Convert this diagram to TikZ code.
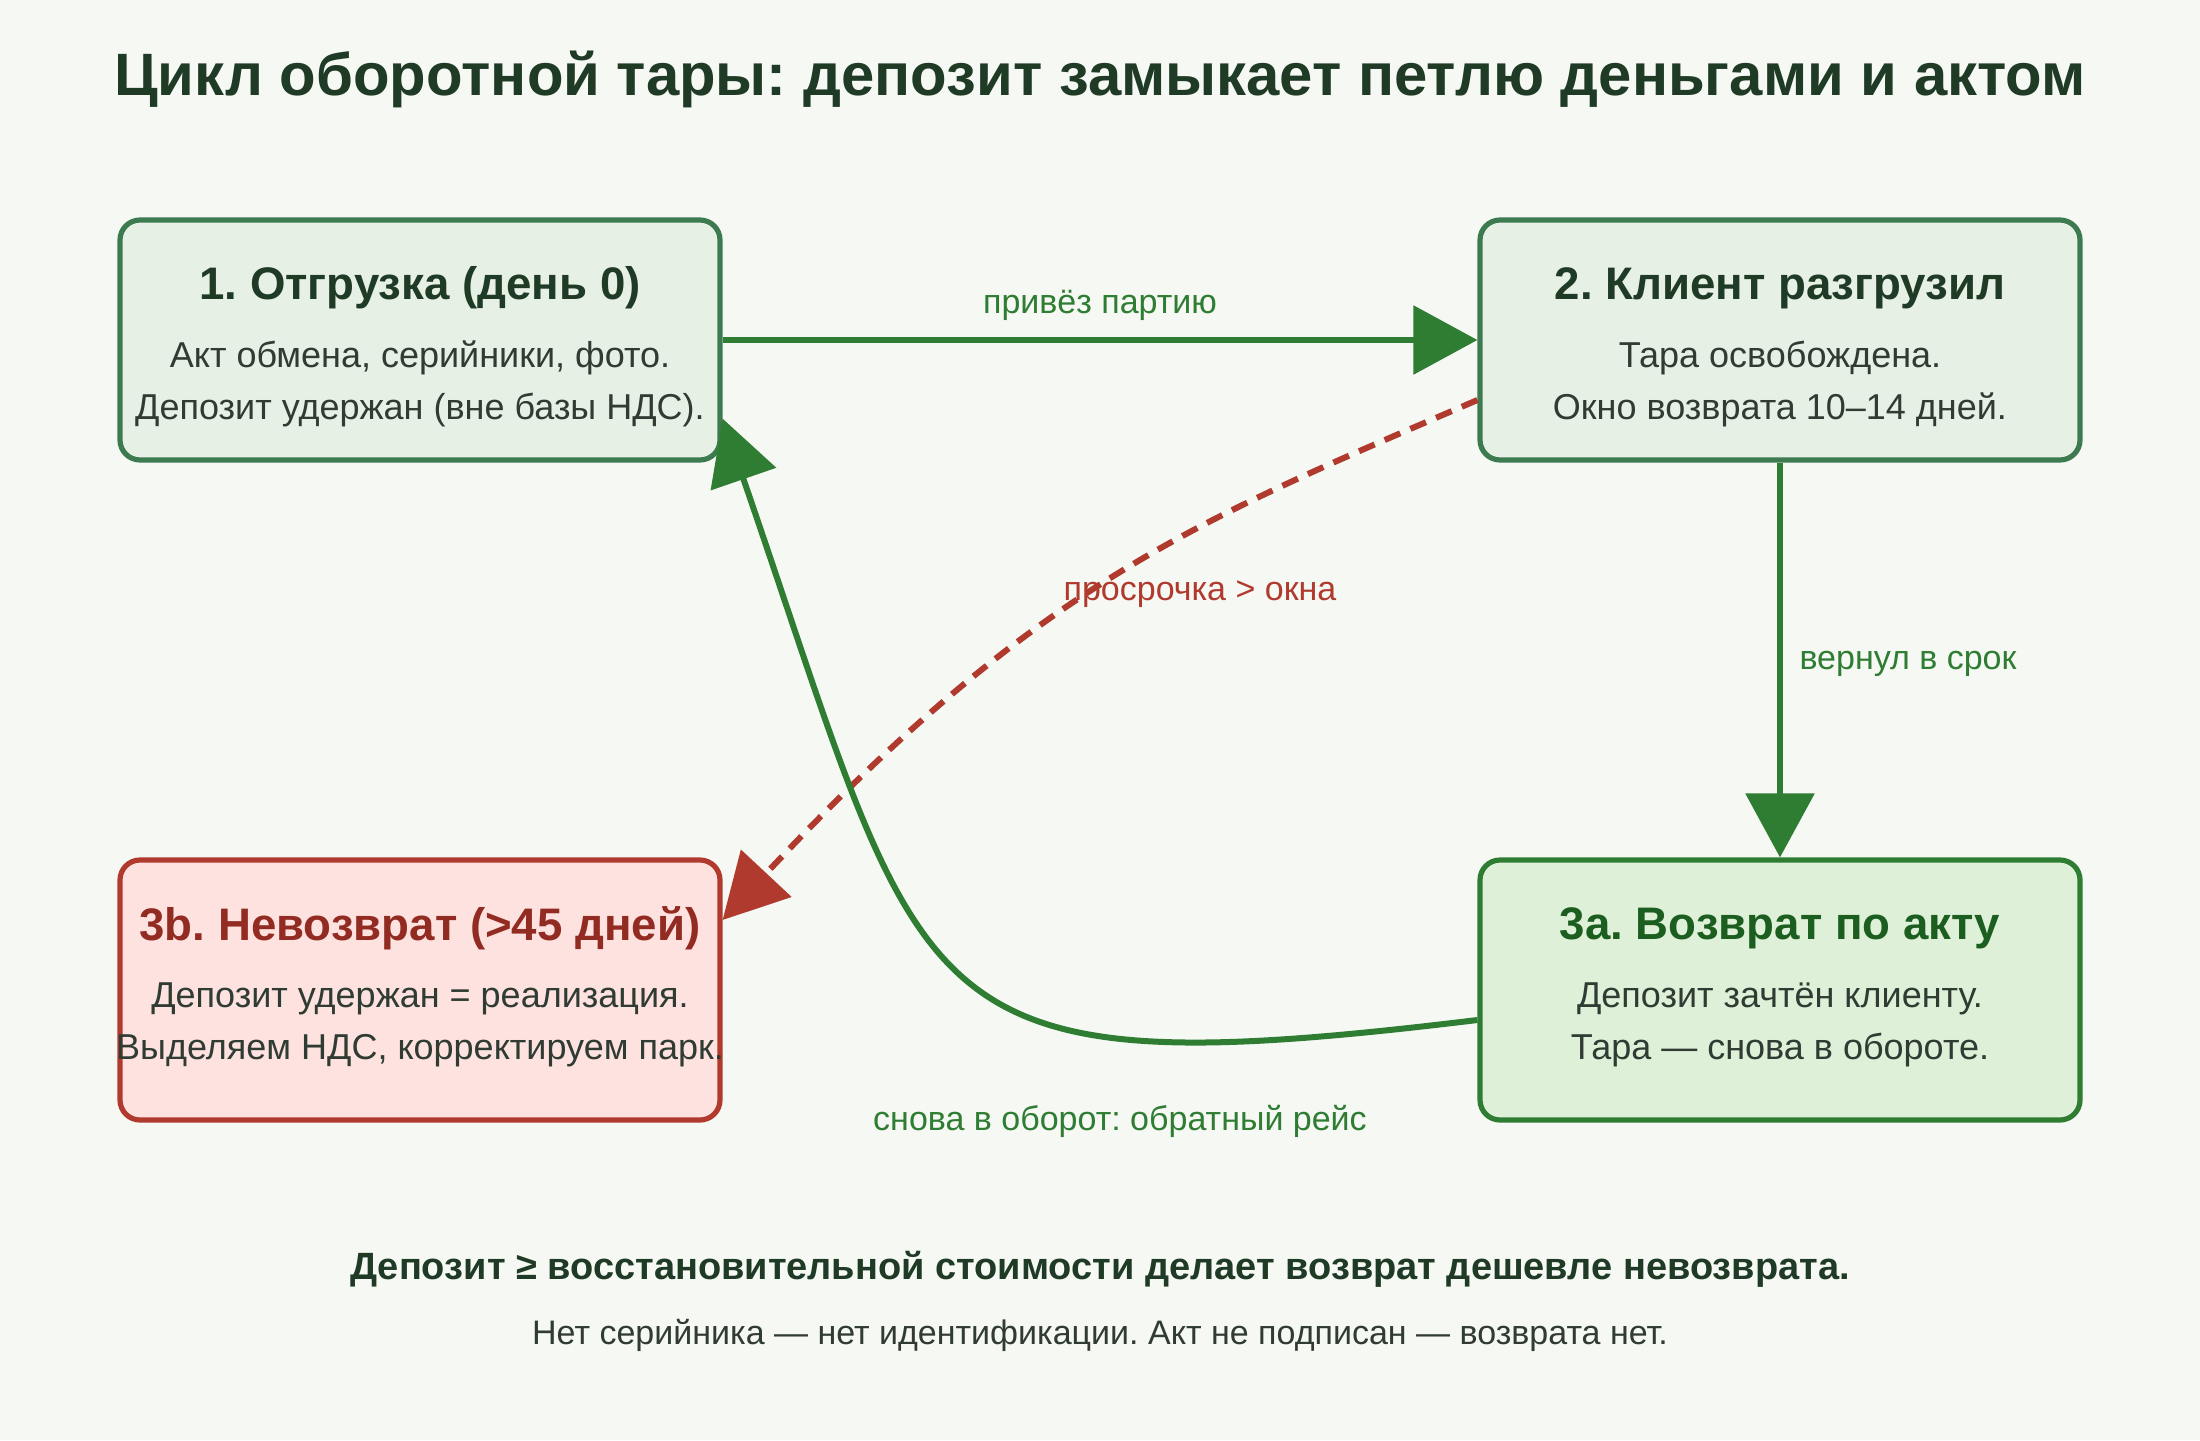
\documentclass[tikz,border=0pt]{standalone}
\usepackage{fontspec}
\setmainfont{Liberation Sans}
\frenchspacing
\usetikzlibrary{arrows.meta, positioning, calc}
\definecolor{cbg}{HTML}{F6F8F4}
\definecolor{cink}{HTML}{1F3A25}
\definecolor{ctext}{HTML}{2F3B33}
\definecolor{cgreen}{HTML}{2E7D32}
\definecolor{cmoss}{HTML}{3D7A50}
\definecolor{cred}{HTML}{B03A2E}
\definecolor{cdkred}{HTML}{922B21}
\definecolor{cdkgreen}{HTML}{1B5E20}
\definecolor{cfillA}{HTML}{E6F0E4}
\definecolor{cfillB}{HTML}{DFF0D8}
\definecolor{cfillC}{HTML}{FDE2DF}
\tikzset{
  every picture/.style={line width=3pt},
  box/.style={draw=#1, rounded corners=10pt, line width=2.6pt, minimum width=300pt, minimum height=120pt, inner sep=0pt},
  box/.default=cmoss,
  head/.style={font=\fontsize{22.8}{26}\selectfont\bfseries, text=cink},
  body/.style={font=\fontsize{18}{26}\selectfont, text=ctext, align=center},
  flow/.style={-{Triangle[length=32pt, width=34pt]}, draw=cgreen, line width=3pt},
  late/.style={flow, draw=cred, dash pattern=on 8.5pt off 5.5pt},
  lbl/.style={font=\fontsize{17}{20}\selectfont, text=cgreen},
}

\begin{document}
\begin{tikzpicture}[x=1pt, y=-1pt]
  \fill[cbg] (0,0) rectangle (1100,720);
  \useasboundingbox (0,0) rectangle (1100,720);
  \node[font=\fontsize{29.9}{34}\selectfont\bfseries, text=cink] (title) at (550,39.5) {Цикл оборотной тары: депозит замыкает петлю деньгами и актом};
  % top row: shipment and unloading
  \node[box=cmoss, fill=cfillA] (ship) at (210,170) {};
  \node[head] (shipT) at (210,144) {1. Отгрузка (день 0)};
  \node[body] (shipB) at (210,192) {Акт обмена, серийники, фото.\\Депозит удержан (вне базы НДС).};
  \node[box=cmoss, fill=cfillA] (unload) at (890,170) {};
  \node[head] (unloadT) at (890,144) {2. Клиент разгрузил};
  \node[body] (unloadB) at (890,192) {Тара освобождена.\\Окно возврата 10–14 дней.};
  % bottom row: loss and return
  \node[box=cred, fill=cfillC, minimum height=130pt] (lost) at (210,495) {};
  \node[head, text=cdkred] (lostT) at (210,464) {3b. Невозврат (>45 дней)};
  \node[body] (lostB) at (210,512.5) {Депозит удержан = реализация.\\Выделяем НДС, корректируем парк.};
  \node[box=cgreen, fill=cfillB, minimum height=130pt] (ret) at (890,495) {};
  \node[head, text=cdkgreen] (retT) at (890,464) {3a. Возврат по акту};
  \node[body] (retB) at (890,512.5) {Депозит зачтён клиенту.\\Тара — снова в обороте.};
  % connectors
  \draw[flow] (ship.east) -- (unload.west);
  \draw[flow] (unload.south) -- (ret.north);
  \draw[late] ($(unload.west)+(0,30)$) .. controls (600,260) and (520,290) .. ($(lost.east)+(0,-35)$);
  \draw[flow] ($(ret.west)+(0,15)$) .. controls (450,545) and (465,510) .. ($(ship.south east)+(0,-22)$);
  \node[lbl] (lblA) at (550,152.5) {привёз партию};
  \node[lbl, text=cred] (lblB) at (600,297) {просрочка > окна};
  \node[lbl] (lblC) at (954,332) {вернул в срок};
  \node[lbl] (lblD) at (560,560.5) {снова в оборот: обратный рейс};
  % takeaway
  \node[font=\fontsize{19}{22}\selectfont\bfseries, text=cink] (moral) at (550,634.5) {Депозит ≥ восстановительной стоимости делает возврат дешевле невозврата.};
  \node[font=\fontsize{17}{20}\selectfont, text=ctext] (rule) at (550,667.5) {Нет серийника — нет идентификации. Акт не подписан — возврата нет.};
\end{tikzpicture}
\end{document}
